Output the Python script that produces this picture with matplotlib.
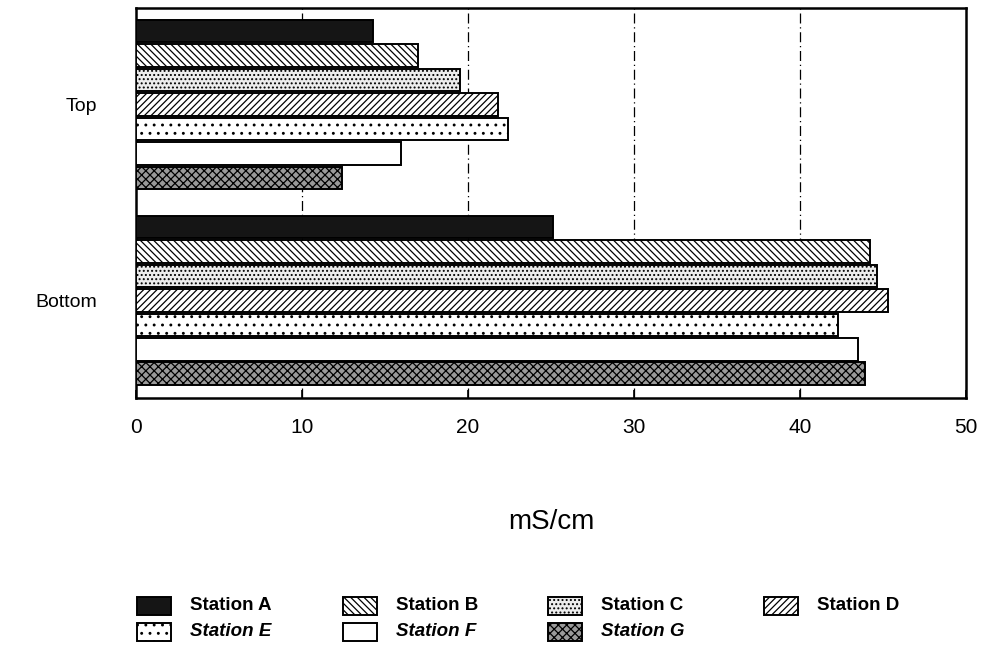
import matplotlib
matplotlib.use("Agg")
import matplotlib.pyplot as plt
from matplotlib.patches import Rectangle

plt.rcParams['font.family'] = ['Liberation Sans', 'DejaVu Sans']
plt.rcParams['hatch.linewidth'] = 0.9

stations = ["Station A", "Station B", "Station C", "Station D",
            "Station E", "Station F", "Station G"]
groups = ["Top", "Bottom"]
top_vals = [14.3, 17.0, 19.5, 21.8, 22.4, 16.0, 12.4]
bottom_vals = [25.1, 44.2, 44.6, 45.3, 42.3, 43.5, 43.9]
xticks = [0, 10, 20, 30, 40, 50]

# fill style per station: (facecolor, hatch)
styles = [("#151515", None),
          ("white", "\\\\\\\\\\"),
          ("#ececec", "...."),
          ("white", "/////"),
          ("white", ".."),
          ("white", None),
          ("#9a9a9a", "xxxx")]

W, H = 983, 667
fig = plt.figure(figsize=(W / 100, H / 100), dpi=100)
ax = fig.add_axes([0.138, 0.403, 0.845, 0.585])

slot = 8  # 7 bars + one empty slot per group
for g, vals in enumerate([top_vals, bottom_vals]):
    for i, v in enumerate(vals):
        fc, h = styles[i]
        ax.barh(g * slot + i, v, height=0.92, color=fc, hatch=h,
                edgecolor="black", linewidth=1.4, zorder=3)

for x in xticks[1:-1]:
    ax.axvline(x, color="black", lw=0.9, ls=(0, (8, 3, 1, 3)), zorder=1)

ax.set_xlim(0, 50)
ax.set_ylim(15.0, -0.95)
ax.set_xticks(xticks)
ax.set_xticklabels([str(x) for x in xticks], fontsize=15)
ax.set_yticks([3, 11])
ax.set_yticklabels(groups, fontsize=14)
ax.tick_params(axis="y", length=0, pad=28)
ax.tick_params(axis="x", direction="in", length=6, pad=14, width=1.2)
for s in ax.spines.values():
    s.set_linewidth(1.8)

ax.set_xlabel("mS/cm", fontsize=20, labelpad=52)

# legend, laid out by hand in pixel positions (4 per row)
col_x = [137, 343, 548, 764]
row_y = [606, 632]
for i, name in enumerate(stations):
    px = col_x[i % 4]
    py = row_y[i // 4]
    fc, h = styles[i]
    fig.add_artist(Rectangle((px / W, (H - py - 9) / H), 34 / W, 18 / H,
                             facecolor=fc, hatch=h, edgecolor="black",
                             linewidth=1.4, transform=fig.transFigure))
    fig.text((px + 53) / W, (H - py) / H, name, fontsize=13.5,
             fontweight="bold", style="italic" if i >= 4 else "normal",
             ha="left", va="center")

fig.savefig("out.png", dpi=100, facecolor="white")
